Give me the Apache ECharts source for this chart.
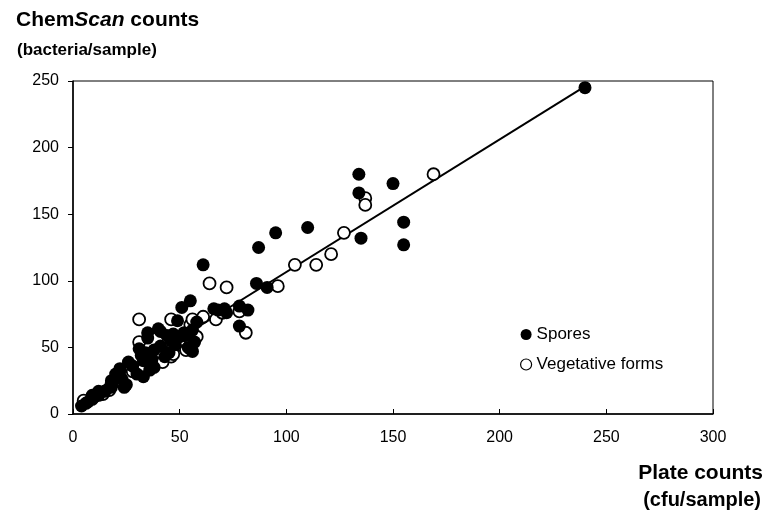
<!DOCTYPE html>
<html>
<head>
<meta charset="utf-8">
<script src="https://cdn.jsdelivr.net/npm/echarts@6/dist/echarts.min.js"></script>
<style>
  html, body { margin: 0; padding: 0; background: #fff; }
  #chart { width: 769px; height: 514px; }
</style>
</head>
<body>
<div id="chart"></div>
<script>
// 数据
var sporesData = [
  [4, 6], [6, 8], [7, 9], [9, 11], [9, 14], [12, 14], [12, 17], [15, 17], [18, 20], [18, 25],
  [20, 30], [22, 34], [23, 26], [24, 20], [25, 22], [26, 39], [28, 36], [30, 30], [31, 49], [32, 44],
  [33, 40], [33, 28], [34, 46], [35, 57], [35, 61], [36, 33], [37, 41], [38, 35], [38, 48], [40, 64],
  [41, 51], [41, 62], [43, 43], [44, 59], [45, 46], [46, 55], [47, 60], [48, 52], [49, 70], [50, 58],
  [51, 80], [52, 61], [53, 59], [54, 50], [55, 85], [56, 63], [56, 47], [57, 54], [58, 69], [61, 112],
  [66, 79], [68, 78], [71, 79], [72, 76], [78, 81], [78, 66], [82, 78], [86, 98], [87, 125], [91, 95],
  [95, 136], [110, 140], [134, 180], [134, 166], [135, 132], [150, 173], [155, 144], [155, 127], [240, 245]
]
var vegetativeData = [
  [5, 10], [10, 13], [14, 15], [17, 18], [18, 22], [22, 28], [28, 32], [31, 71], [31, 54], [33, 36],
  [36, 45], [38, 39], [42, 39], [46, 43], [46, 71], [47, 45], [50, 52], [53, 48], [55, 49], [55, 67],
  [56, 71], [58, 58], [61, 73], [64, 98], [67, 71], [70, 76], [72, 95], [78, 77], [81, 61], [96, 96],
  [104, 112], [114, 112], [121, 120], [127, 136], [137, 162], [137, 157], [169, 180]
]
var fitLine = [[5, 12], [240, 246]]
var legendNames = ['Spores', 'Vegetative forms']

var chart = echarts.init(document.getElementById('chart'))

var option = {
  backgroundColor: '#fff',
  animation: false,
  textStyle: { fontFamily: 'Liberation Sans' },
  title: [
    {
      text: 'Chem{i|Scan} counts',
      left: 11,
      top: 5,
      textStyle: {
        fontSize: 21,
        fontWeight: 'bold',
        color: '#000',
        rich: { i: { fontSize: 21, fontWeight: 'bold', fontStyle: 'italic', color: '#000' } }
      }
    },
    {
      text: '(bacteria/sample)',
      left: 12,
      top: 37,
      textStyle: { fontSize: 17, fontWeight: 'bold', color: '#000' }
    },
    {
      text: 'Plate counts',
      right: 1,
      top: 458,
      textStyle: { fontSize: 21, fontWeight: 'bold', color: '#000' }
    },
    {
      text: '(cfu/sample)',
      right: 3,
      top: 485,
      textStyle: { fontSize: 20, fontWeight: 'bold', color: '#000' }
    }
  ],
  legend: {
    data: [
      { name: 'Spores', icon: 'circle' },
      { name: 'Vegetative forms', icon: 'circle', itemStyle: { color: '#fff', borderColor: '#000', borderWidth: 1.2 } }
    ],
    orient: 'vertical',
    left: 515,
    top: 321,
    itemWidth: 11,
    itemHeight: 11,
    itemGap: 13,
    textStyle: { fontSize: 17, color: '#000', fontFamily: 'Liberation Sans' }
  },
  grid: {
    left: 73,
    right: 56,
    top: 81,
    bottom: 100,
    show: true,
    borderColor: '#000',
    borderWidth: 1
  },
  xAxis: {
    type: 'value',
    min: 0,
    max: 300,
    interval: 50,
    splitLine: { show: false },
    axisLine: { lineStyle: { color: '#000', width: 1.5 } },
    axisTick: { inside: true, length: 5, lineStyle: { color: '#000' } },
    axisLabel: { color: '#000', fontSize: 16, margin: 16 }
  },
  yAxis: {
    type: 'value',
    min: 0,
    max: 250,
    interval: 50,
    splitLine: { show: false },
    axisLine: { show: true, lineStyle: { color: '#000', width: 1.5 } },
    axisTick: { show: true, length: 5, lineStyle: { color: '#000' } },
    axisLabel: { color: '#000', fontSize: 16, margin: 14 }
  },
  series: [
    {
      name: 'fit',
      type: 'line',
      data: fitLine,
      symbol: 'none',
      lineStyle: { color: '#000', width: 2 },
      z: 1
    },
    {
      name: legendNames[1],
      type: 'scatter',
      data: vegetativeData,
      symbolSize: 12,
      itemStyle: { color: '#fff', borderColor: '#000', borderWidth: 1.8, opacity: 1 },
      z: 2
    },
    {
      name: legendNames[0],
      type: 'scatter',
      data: sporesData,
      symbolSize: 13,
      itemStyle: { color: '#000', opacity: 1 },
      z: 3
    }
  ]
}

chart.setOption(option)
</script>
</body>
</html>
